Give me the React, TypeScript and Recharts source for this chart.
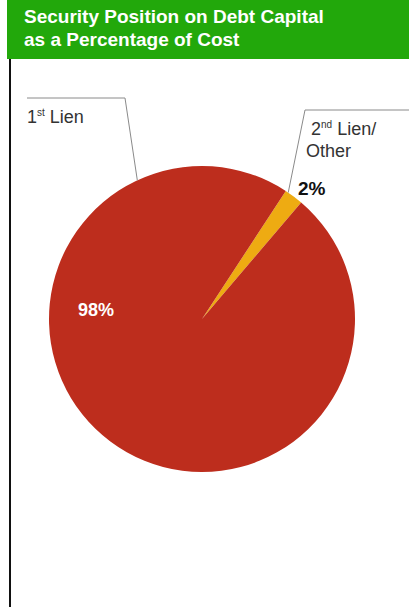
import { PieChart, Pie, Cell } from "recharts";

const segments = ["2nd Lien/Other", "1st Lien"];
const shares = [2, 98];
const sliceColors = ["#eeab12", "#bd2d1d"];

const data = segments.map((name, i) => ({ name, value: shares[i] }));

const FONT = "'Liberation Sans', Arial, Helvetica, sans-serif";
const RAD = Math.PI / 180;
const polar = (cx: number, cy: number, r: number, angle: number) => [
  cx + r * Math.cos(angle * RAD),
  cy - r * Math.sin(angle * RAD),
];

function SliceLabel(props: any) {
  const { cx, cy, outerRadius, midAngle, index, value } = props;

  if (index === 0) {
    // 2nd lien / other: leader goes up-right to the margin
    const [ex, ey] = polar(cx, cy, outerRadius, midAngle + 2.5);
    return (
      <g>
        <polyline
          points={`${ex},${ey} ${cx + 103},${cy - 209} ${cx + 210},${cy - 209}`}
          fill="none"
          stroke="#8a8a8a"
          strokeWidth={1}
        />
        <text x={cx + 109} y={cy - 184} fill="#333" fontSize={18} fontFamily={FONT}>
          2<tspan fontSize={10} dy={-7}>nd</tspan>
          <tspan dy={7}> Lien/</tspan>
        </text>
        <text x={cx + 104} y={cy - 162} fill="#333" fontSize={18} fontFamily={FONT}>
          Other
        </text>
        <text x={cx + 96} y={cy - 124} fill="#111" fontSize={19} fontWeight="bold" fontFamily={FONT}>
          {value}%
        </text>
      </g>
    );
  }

  // 1st lien: leader goes up-left
  const [ex, ey] = polar(cx, cy, outerRadius, 115);
  return (
    <g>
      <polyline
        points={`${ex},${ey} ${cx - 77},${cy - 221} ${cx - 175},${cy - 221}`}
        fill="none"
        stroke="#8a8a8a"
        strokeWidth={1}
      />
      <text x={cx - 175} y={cy - 196} fill="#333" fontSize={18} fontFamily={FONT}>
        1<tspan fontSize={10} dy={-7}>st</tspan>
        <tspan dy={7}> Lien</tspan>
      </text>
      <text x={cx - 124} y={cy - 3} fill="#fff" fontSize={18} fontWeight="bold" fontFamily={FONT}>
        {value}%
      </text>
    </g>
  );
}

export default function App() {
  return (
    <div
      style={{
        position: "absolute",
        left: 0,
        top: 0,
        width: 409,
        height: 607,
        background: "#fff",
        overflow: "hidden",
        fontFamily: FONT,
      }}
    >
      <div
        style={{
          position: "absolute",
          left: 7,
          top: 0,
          width: 402,
          height: 59,
          background: "#22a80b",
          color: "#fff",
          fontWeight: "bold",
          fontSize: 19,
          lineHeight: "23px",
          padding: "5px 0 0 17px",
          boxSizing: "border-box",
        }}
      >
        Security Position on Debt Capital
        <br />
        as a Percentage of Cost
      </div>
      <div
        style={{
          position: "absolute",
          left: 9,
          top: 59,
          width: 2,
          height: 548,
          background: "#111",
        }}
      />
      <div style={{ position: "absolute", left: 0, top: 0 }}>
        <PieChart width={409} height={607} margin={{ top: 0, right: 0, bottom: 0, left: 0 }}>
          <Pie
            data={data}
            dataKey="value"
            nameKey="name"
            cx={202}
            cy={319}
            outerRadius={153}
            startAngle={49.6}
            endAngle={409.6}
            stroke="none"
            label={SliceLabel}
            labelLine={false}
            isAnimationActive={false}
          >
            {data.map((entry, i) => (
              <Cell key={entry.name} fill={sliceColors[i]} />
            ))}
          </Pie>
        </PieChart>
      </div>
    </div>
  );
}
